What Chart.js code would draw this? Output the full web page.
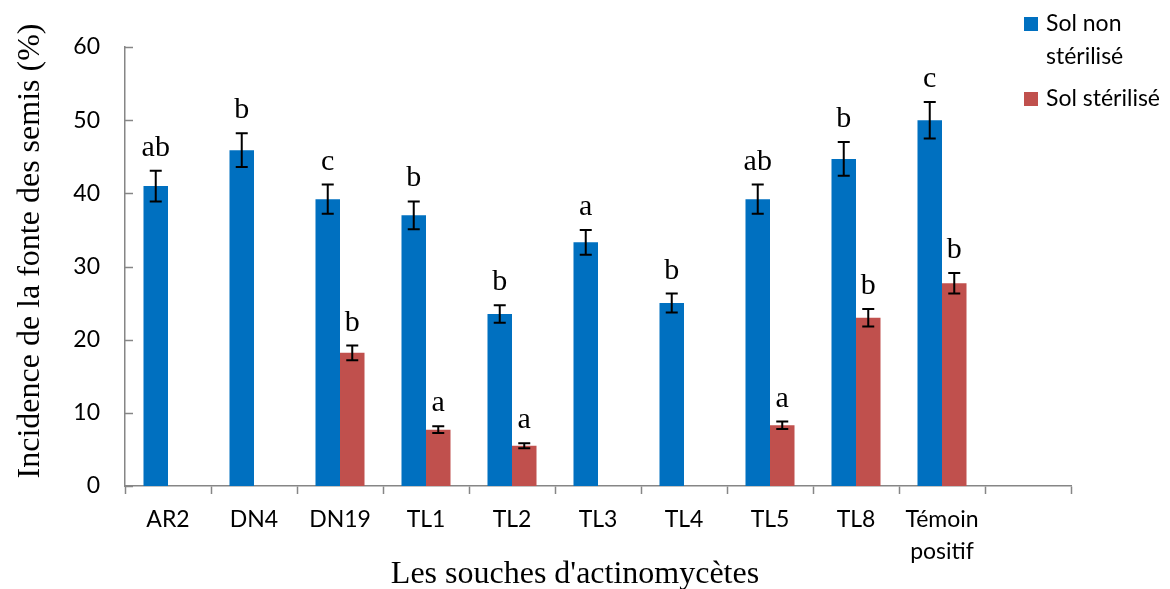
<!DOCTYPE html>
<html lang="fr">
<head>
<meta charset="utf-8">
<title>Incidence de la fonte des semis</title>
<script src="https://cdn.jsdelivr.net/npm/chart.js@4.4.1/dist/chart.umd.min.js"></script>
<style>
  html, body { margin: 0; padding: 0; background: #fff; }
  #wrap { position: relative; width: 1170px; height: 589px; }
</style>
</head>
<body>
<div id="wrap"><canvas id="fonteChart" width="1170" height="589"></canvas></div>
<script>
// --- Data ---
const souches = ['AR2', 'DN4', 'DN19', 'TL1', 'TL2', 'TL3', 'TL4', 'TL5', 'TL8', ['Témoin', 'positif'], ''];
const nonSterile    = [41.0, 45.9, 39.2, 37.0, 23.5, 33.3, 25.0, 39.2, 44.7, 50.0, null];
const nonSterileErr = [2.1, 2.3, 2.0, 1.9, 1.2, 1.7, 1.3, 2.0, 2.3, 2.5, null];
const sterile       = [0, 0, 18.2, 7.7, 5.5, 0, 0, 8.3, 23.0, 27.7, null];
const sterileErr    = [null, null, 1.0, 0.45, 0.35, null, null, 0.5, 1.2, 1.4, null];
const nonSterileLetters = ['ab', 'b', 'c', 'b', 'b', 'a', 'b', 'ab', 'b', 'c', ''];
const sterileLetters    = ['', '', 'b', 'a', 'a', '', '', 'a', 'b', 'b', ''];
const yTicks = [0, 10, 20, 30, 40, 50, 60];

const AXIS_GREY = '#868686';
const SANS = "Lato, 'Open Sans', sans-serif";
const SERIF = "'Liberation Serif', 'DejaVu Serif', serif";

// --- Error bars + significance letters ---
const errorBars = {
  id: 'errorBars',
  afterDatasetsDraw(chart) {
    const ctx = chart.ctx;
    const y = chart.scales.y;
    const errs = [nonSterileErr, sterileErr];
    const letters = [nonSterileLetters, sterileLetters];
    ctx.save();
    chart.data.datasets.forEach((ds, di) => {
      const meta = chart.getDatasetMeta(di);
      meta.data.forEach((bar, i) => {
        const v = ds.data[i];
        const e = errs[di][i];
        if (v == null) return;
        let topVal = v;
        if (e != null) {
          const yTop = y.getPixelForValue(v + e);
          const yBot = y.getPixelForValue(v - e);
          ctx.strokeStyle = '#000';
          ctx.lineWidth = 2;
          ctx.beginPath();
          ctx.moveTo(bar.x, yTop); ctx.lineTo(bar.x, yBot);
          ctx.moveTo(bar.x - 6, yTop); ctx.lineTo(bar.x + 6, yTop);
          ctx.moveTo(bar.x - 6, yBot); ctx.lineTo(bar.x + 6, yBot);
          ctx.stroke();
          topVal = v + e;
        }
        const txt = letters[di][i];
        if (txt) {
          ctx.fillStyle = '#000';
          ctx.font = '30px ' + SERIF;
          ctx.textAlign = 'center';
          ctx.textBaseline = 'alphabetic';
          ctx.fillText(txt, bar.x, y.getPixelForValue(topVal) - 15);
        }
      });
    });
    ctx.restore();
  }
};

// --- Inward tick marks on the y axis ---
const yTickMarks = {
  id: 'yTickMarks',
  afterDraw(chart) {
    const ctx = chart.ctx;
    const y = chart.scales.y;
    const left = chart.chartArea.left;
    ctx.save();
    ctx.strokeStyle = AXIS_GREY;
    ctx.lineWidth = 1.5;
    yTicks.forEach(t => {
      const py = Math.round(y.getPixelForValue(t)) + 0.5;
      ctx.beginPath();
      ctx.moveTo(left, py);
      ctx.lineTo(left + 8, py);
      ctx.stroke();
    });
    ctx.restore();
  }
};

// --- Axis titles and legend (legend text wraps like the original) ---
const legendLines = [['Sol non', 'stérilisé'], ['Sol stérilisé']];
const decorations = {
  id: 'decorations',
  afterDraw(chart) {
    const ctx = chart.ctx;
    ctx.save();
    ctx.fillStyle = '#000';
    ctx.font = '32px ' + SERIF;
    ctx.textAlign = 'center';
    ctx.textBaseline = 'middle';
    ctx.fillText("Les souches d'actinomycètes", 575, 575);
    ctx.translate(31, 251);
    ctx.rotate(-Math.PI / 2);
    ctx.fillText('Incidence de la fonte des semis (%)', 0, 0);
    ctx.restore();

    ctx.save();
    ctx.font = '23px ' + SANS;
    ctx.textAlign = 'left';
    ctx.textBaseline = 'middle';
    const startY = [24, 99];
    chart.data.datasets.forEach((ds, di) => {
      const ly = startY[di];
      ctx.fillStyle = ds.backgroundColor;
      ctx.fillRect(1024, ly - 7, 14, 14);
      ctx.fillStyle = '#000';
      legendLines[di].forEach((line, li) => {
        ctx.fillText(line, 1046, ly + li * 33);
      });
    });
    ctx.restore();
  }
};

new Chart(document.getElementById('fonteChart'), {
  type: 'bar',
  data: {
    labels: souches,
    datasets: [
      {
        label: 'Sol non stérilisé',
        data: nonSterile,
        backgroundColor: '#0070C0',
        categoryPercentage: 0.57,
        barPercentage: 1.0
      },
      {
        label: 'Sol stérilisé',
        data: sterile,
        backgroundColor: '#C0504D',
        categoryPercentage: 0.57,
        barPercentage: 1.0
      }
    ]
  },
  options: {
    responsive: false,
    animation: false,
    layout: { padding: { left: 0, right: 99, top: 47, bottom: 0 } },
    plugins: {
      legend: { display: false },
      tooltip: { enabled: false }
    },
    scales: {
      x: {
        offset: true,
        afterFit: s => { s.height = 103; },
        grid: {
          display: true,
          offset: true,
          drawOnChartArea: false,
          drawTicks: true,
          tickLength: 8,
          tickWidth: 1.5,
          tickColor: AXIS_GREY
        },
        border: { display: true, color: AXIS_GREY, width: 1.5 },
        ticks: {
          color: '#000',
          padding: 10,
          maxRotation: 0,
          autoSkip: false,
          font: { family: SANS, size: 23, lineHeight: 1.39 }
        }
      },
      y: {
        min: 0,
        max: 60,
        afterFit: s => { s.width = 125; },
        afterBuildTicks: s => { s.ticks = yTicks.map(v => ({ value: v })); },
        grid: { display: false, drawTicks: false },
        border: { display: true, color: AXIS_GREY, width: 1.5 },
        ticks: {
          color: '#000',
          padding: 25,
          font: { family: SANS, size: 23 }
        }
      }
    }
  },
  plugins: [errorBars, yTickMarks, decorations]
});
</script>
</body>
</html>
